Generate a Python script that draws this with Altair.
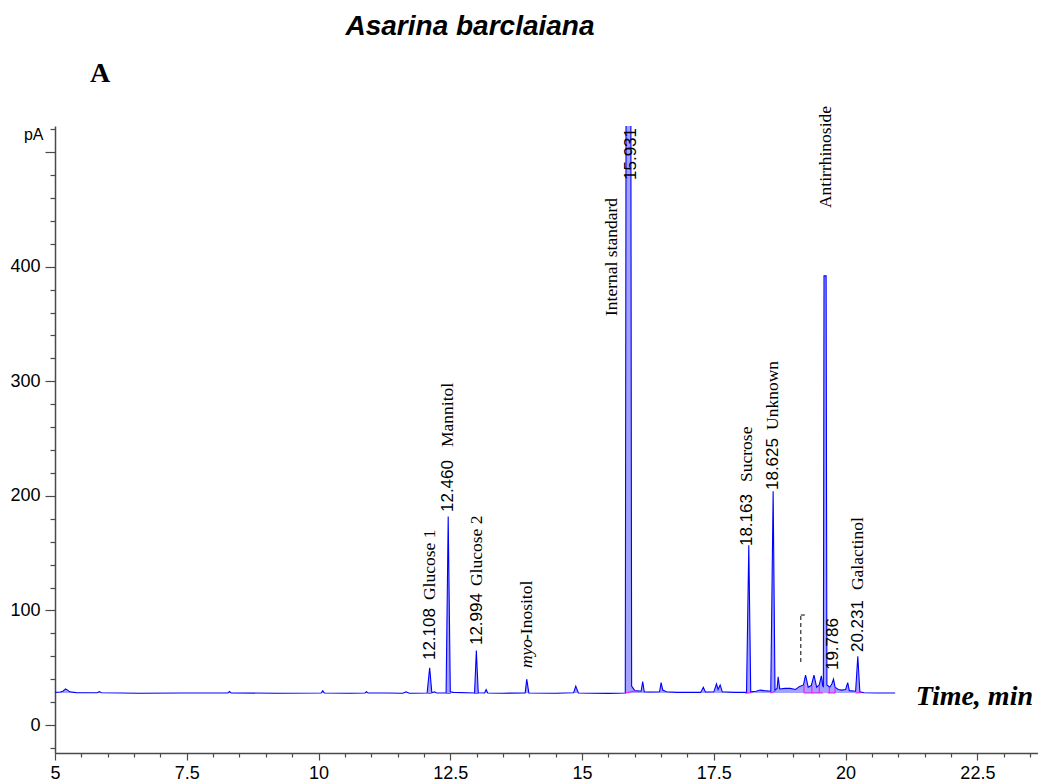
import altair as alt
import pandas as pd

# --- chromatogram trace (retention time in min, detector signal in pA) ---
trace_min = [
    5.00, 5.10, 5.15, 5.20, 5.24, 5.28, 5.40, 5.80, 5.84, 5.88,
    6.60, 7.40, 8.28, 8.31, 8.34, 9.20, 10.05, 10.08, 10.11, 10.60,
    10.88, 10.91, 10.94, 11.30, 11.60, 11.66, 11.72, 12.06, 12.108, 12.15,
    12.20, 12.24, 12.42, 12.46, 12.50, 12.56, 12.96, 12.994, 13.03, 13.15,
    13.18, 13.21, 13.50, 13.92, 13.95, 13.99, 14.50, 14.84, 14.88, 14.93,
    15.50, 15.82, 15.835, 15.925, 15.94, 16.00, 16.12, 16.15, 16.18, 16.30,
    16.47, 16.50, 16.53, 16.60, 16.80, 17.25, 17.30, 17.34, 17.50, 17.55,
    17.58, 17.62, 17.66, 17.90, 18.12, 18.163, 18.20, 18.30, 18.38, 18.45,
    18.58, 18.625, 18.66, 18.70, 18.72, 18.75, 18.85, 18.95, 19.05, 19.12,
    19.20, 19.24, 19.29, 19.35, 19.40, 19.45, 19.50, 19.54, 19.565, 19.578,
    19.59, 19.63, 19.645, 19.70, 19.74, 19.77, 19.80, 19.86, 19.92, 20.00,
    20.04, 20.07, 20.19, 20.231, 20.27, 20.35, 20.60, 20.94,
]
trace_pa = [
    28.5, 28.8, 29.5, 31.5, 30.5, 29.0, 28.3, 28.2, 29.2, 28.2,
    27.8, 28.0, 28.0, 29.3, 28.0, 27.8, 27.9, 30.0, 28.0, 27.8,
    28.0, 29.0, 27.9, 28.0, 27.7, 29.0, 27.8, 28.0, 50.0, 28.2,
    29.0, 28.0, 28.0, 182.0, 29.0, 28.5, 28.0, 65.0, 28.2, 28.0,
    31.0, 28.0, 27.8, 28.0, 40.0, 28.0, 27.8, 28.2, 34.0, 28.0,
    27.6, 28.0, 560.0, 560.0, 34.0, 30.0, 29.5, 38.0, 29.0, 28.8,
    29.0, 37.0, 30.5, 29.0, 28.5, 28.5, 33.0, 28.8, 29.0, 36.0,
    31.0, 35.0, 29.0, 28.5, 28.5, 157.0, 29.0, 29.5, 30.5, 30.0,
    29.5, 204.0, 30.5, 32.0, 42.0, 31.5, 32.0, 32.0, 31.0, 33.5,
    35.0, 43.5, 33.0, 34.5, 43.5, 33.0, 35.0, 43.0, 34.0, 33.5,
    392.0, 392.0, 35.0, 33.0, 36.0, 40.0, 33.0, 31.0, 30.5, 31.0,
    37.0, 30.0, 29.5, 60.0, 29.0, 28.2, 28.0, 28.0,
]
BASELINE_PA = 28.0

# --- integration baselines drawn under the integrated peaks ---
base_start = [12.07, 12.42, 12.95, 15.82, 18.10, 18.57, 19.21, 19.66, 20.19]
base_end = [12.14, 12.51, 13.04, 16.02, 18.21, 18.67, 19.57, 19.80, 20.29]
base_pa_start = [27.6, 27.6, 27.6, 27.8, 27.8, 28.0, 28.0, 28.0, 28.0]
base_pa_end = [27.6, 27.6, 27.6, 30.0, 28.2, 29.5, 28.0, 28.0, 28.2]
drop_min = [19.21, 19.36, 19.50, 19.69, 19.80]
drop_top = [35.0, 34.0, 35.0, 33.0, 33.0]

# --- retention-time labels (Arial) and compound names (Times), placed on a shared baseline ---
rt_text = ["12.108", "12.460", "12.994", "15.931", "18.163", "18.625", "19.786", "20.231"]
rt_min = [12.211, 12.552, 13.102, 16.015, 18.226, 18.719, 19.858, 20.332]
rt_pa = [56.7, 185.9, 69.8, 475.7, 156.2, 205.1, 48.0, 63.7]

name_text = ["Glucose 1", "Mannitol", "Glucose 2", "-Inositol", "Internal standard",
             "Sucrose", "Unknown", "Antirrhinoside", "Galactinol"]
name_min = [12.211, 12.552, 13.102, 14.051, 15.664, 18.226, 18.719, 19.725, 20.332]
name_pa = [109.1, 242.6, 121.3, 74.2, 357.0, 212.1, 257.5, 451.2, 117.8]

italic_text = ["myo"]
italic_min = [14.051]
italic_pa = [49.7]

# dashed marker left in the integration region
dash_min = [19.15, 19.15]
dash_min2 = [19.15, 19.26]
dash_pa = [55.0, 96.0]
dash_pa2 = [96.0, 96.0]

X_DOMAIN = [5.0, 23.65]
Y_DOMAIN = [-24.4, 522.8]

AXIS_GREY = "#4a4a4a"
SANS = "Liberation Sans"
SERIF = "Liberation Serif"

x_ticks = [5.0 + 0.5 * i for i in range(38)]
y_ticks = list(range(-20, 521, 20))

x_axis = alt.Axis(
    values=x_ticks, format="~g", title=None, grid=False,
    labelExpr="datum.value % 2.5 === 0 ? datum.label : ''",
    tickSize={"condition": {"test": "datum.value % 2.5 === 0", "value": 7}, "value": 4},
    labelPadding=4, labelFont=SANS, labelFontSize=18, labelColor="black",
    domainColor=AXIS_GREY, domainWidth=1.5, tickColor=AXIS_GREY, tickWidth=1.2,
    labelFlush=False, labelOverlap=False,
)
y_axis = alt.Axis(
    values=y_ticks, title="pA", grid=False,
    labelExpr="datum.value % 100 === 0 && datum.value < 500 ? datum.label : ''",
    tickSize={"condition": {"test": "datum.value % 100 === 0", "value": 10}, "value": 5},
    labelPadding=5, labelFont=SANS, labelFontSize=18, labelColor="black",
    domainColor=AXIS_GREY, domainWidth=1.5, tickColor=AXIS_GREY, tickWidth=1.2,
    labelOverlap=False, labelFlush=False,
    titleAngle=0, titleX=-12, titleY=13, titleAlign="right", titleBaseline="alphabetic",
    titleFont=SANS, titleFontSize=16, titleFontWeight="normal", titleColor="black",
)


def X(field):
    return alt.X(field, type="quantitative", scale=alt.Scale(domain=X_DOMAIN, nice=False, zero=False), axis=x_axis)


def Y(field):
    return alt.Y(field, type="quantitative", scale=alt.Scale(domain=Y_DOMAIN, nice=False, zero=False), axis=y_axis)


trace_df = pd.DataFrame({"t": trace_min, "pa": trace_pa, "base": BASELINE_PA})
base_df = pd.DataFrame({"t": base_start, "t2": base_end, "pa": base_pa_start, "pa2": base_pa_end})
drop_df = pd.DataFrame({"t": drop_min, "pa": BASELINE_PA, "pa2": drop_top})
rt_df = pd.DataFrame({"t": rt_min, "pa": rt_pa, "label": rt_text})
name_df = pd.DataFrame({"t": name_min, "pa": name_pa, "label": name_text})
italic_df = pd.DataFrame({"t": italic_min, "pa": italic_pa, "label": italic_text})
dash_df = pd.DataFrame({"t": dash_min, "t2": dash_min2, "pa": dash_pa, "pa2": dash_pa2})

fill = alt.Chart(trace_df).mark_area(clip=True, color="#a3a3ff", opacity=1).encode(
    x=X("t"), y=Y("pa"), y2="base"
)
line = alt.Chart(trace_df).mark_line(clip=True, color="#0000ff", strokeWidth=1.1).encode(
    x=X("t"), y=Y("pa")
)
baselines = alt.Chart(base_df).mark_rule(color="#ff00ff", strokeWidth=1).encode(
    x=X("t"), x2="t2", y=Y("pa"), y2="pa2"
)
drops = alt.Chart(drop_df).mark_rule(color="#ff00ff", strokeWidth=1).encode(
    x=X("t"), y=Y("pa"), y2="pa2"
)
dashes = alt.Chart(dash_df).mark_rule(color="black", strokeWidth=1, strokeDash=[4, 3]).encode(
    x=X("t"), x2="t2", y=Y("pa"), y2="pa2"
)

rt_labels = alt.Chart(rt_df).mark_text(
    angle=270, align="left", baseline="alphabetic", font=SANS, fontSize=17, color="black"
).encode(x=X("t"), y=Y("pa"), text="label")
name_labels = alt.Chart(name_df).mark_text(
    angle=270, align="left", baseline="alphabetic", font=SERIF, fontSize=17.5, color="black"
).encode(x=X("t"), y=Y("pa"), text="label")
italic_labels = alt.Chart(italic_df).mark_text(
    angle=270, align="left", baseline="alphabetic", font=SERIF, fontSize=17.5,
    fontStyle="italic", color="black"
).encode(x=X("t"), y=Y("pa"), text="label")

title_df = pd.DataFrame({"label": ["Asarina barclaiana"]})
panel_df = pd.DataFrame({"label": ["A"]})
xtitle_df = pd.DataFrame({"label": ["Time, min"]})

title_text = alt.Chart(title_df).mark_text(
    font=SANS, fontSize=28, fontWeight="bold", fontStyle="italic", align="center",
    baseline="alphabetic", color="black"
).encode(x=alt.value(415), y=alt.value(-91), text="label")
panel_text = alt.Chart(panel_df).mark_text(
    font=SERIF, fontSize=28, fontWeight="bold", align="center",
    baseline="alphabetic", color="black"
).encode(x=alt.value(45), y=alt.value(-44), text="label")
xtitle_text = alt.Chart(xtitle_df).mark_text(
    font=SERIF, fontSize=28, fontWeight="bold", fontStyle="italic", align="right",
    baseline="alphabetic", color="black"
).encode(x=alt.value(978), y=alt.value(579), text="label")

chart = alt.layer(
    fill, line, baselines, drops, dashes,
    rt_labels, name_labels, italic_labels,
    title_text, panel_text, xtitle_text,
).properties(
    width=983, height=627,
    autosize=alt.AutoSizeParams(type="none"),
    padding={"left": 55, "top": 126, "right": 0, "bottom": 27},
    background="white",
).configure_view(strokeWidth=0)

chart.save("out.html", embed_options={"renderer": "svg", "actions": False})
